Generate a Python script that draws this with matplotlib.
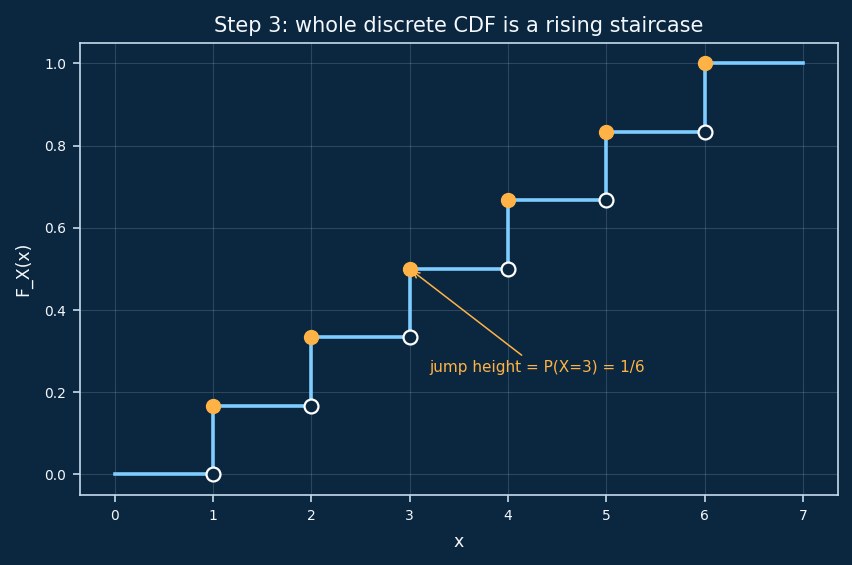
import numpy as np
import matplotlib.pyplot as plt

# fair die CDF
x_vals = [0, 1, 2, 3, 4, 5, 6, 7]
cdf_vals = [0, 1/6, 2/6, 3/6, 4/6, 5/6, 1.0, 1.0]
jump_x = [1, 2, 3, 4, 5, 6]
left_limits = [0, 1/6, 2/6, 3/6, 4/6, 5/6]
jump_tops = [1/6, 2/6, 3/6, 4/6, 5/6, 1.0]

bg = '#0b2740'
line_c = '#7fcdff'
dot_c = '#ffb347'
text_c = '#f4f8fc'
spine_c = '#c6dcee'

fig = plt.figure(figsize=(8.53, 5.65), dpi=100, facecolor=bg)
ax = fig.add_subplot(1, 1, 1)
ax.set_facecolor(bg)

ax.step(x_vals, cdf_vals, where='post', color=line_c, lw=2.6, zorder=2)
ax.plot(jump_x, left_limits, 'o', ms=10, mfc=bg, mec='white', mew=1.6, zorder=3)
ax.plot(jump_x, jump_tops, 'o', ms=10, color=dot_c, zorder=4)

ax.annotate('jump height = P(X=3) = 1/6', xy=(3, 0.5), xytext=(3.2, 0.25),
            color=dot_c, fontsize=11,
            arrowprops=dict(arrowstyle='->', color=dot_c, lw=1.1))

ax.set_title('Step 3: whole discrete CDF is a rising staircase', color=text_c,
             fontsize=15, pad=8)
ax.set_xlabel('x', color=text_c, fontsize=12.5, labelpad=7)
ax.set_ylabel('F_X(x)', color=text_c, fontsize=12.5, labelpad=9)
ax.grid(True, color='#9fb8cc', alpha=0.22, lw=0.8)
ax.tick_params(colors=spine_c, labelcolor=text_c, labelsize=10,
               length=5, width=1.2, pad=5)
for s in ax.spines.values():
    s.set_color(spine_c)
    s.set_linewidth(1.2)

fig.subplots_adjust(left=0.094, right=0.982, top=0.924, bottom=0.124)
plt.savefig('out.png', dpi=100, facecolor=bg)
